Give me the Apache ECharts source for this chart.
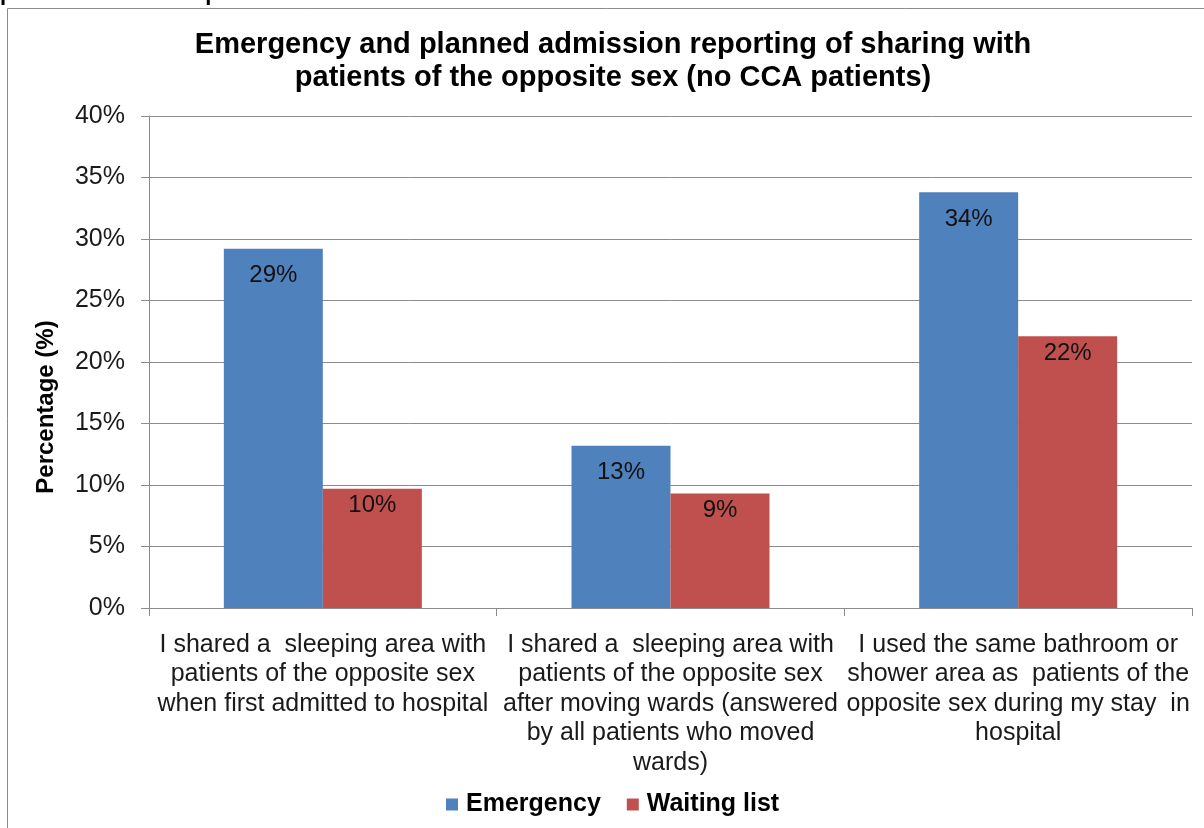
<!DOCTYPE html>
<html>
<head>
<meta charset="utf-8">
<script src="https://cdn.jsdelivr.net/npm/echarts@6/dist/echarts.min.js"></script>
<style>
  html, body { margin: 0; padding: 0; background: #fff; }
  #chart { width: 1204px; height: 828px; }
</style>
</head>
<body>
<div id="chart"></div>
<script>
// categories (line breaks as in the original chart)
var categories = [
    'I shared a  sleeping area with\npatients of the opposite sex\nwhen first admitted to hospital',
    'I shared a  sleeping area with\npatients of the opposite sex\nafter moving wards (answered\nby all patients who moved\nwards)',
    'I used the same bathroom or\nshower area as  patients of the\nopposite sex during my stay  in\nhospital'
];
var emergency = [29.2, 13.2, 33.8];
var waitingList = [9.7, 9.3, 22.1];
var yTicks = [0, 5, 10, 15, 20, 25, 30, 35, 40];

var font = '"Liberation Sans", Arial, sans-serif';

var myChart = echarts.init(document.getElementById('chart'));

myChart.setOption({
    animation: false,
    backgroundColor: '#fff',
    textStyle: { fontFamily: font },
    title: {
        text: 'Emergency and planned admission reporting of sharing with\npatients of the opposite sex (no CCA patients)',
        left: 608,
        textAlign: 'center',
        top: 23,
        textStyle: {
            fontFamily: font,
            fontSize: 29,
            fontWeight: 'bold',
            color: '#000',
            lineHeight: 33
        }
    },
    graphic: [
        {
            // outer frame of the chart object
            type: 'rect',
            shape: { x: 7.5, y: 8.5, width: 1300, height: 900 },
            style: { fill: 'none', stroke: '#8c8c8c', lineWidth: 1 },
            silent: true
        },
        {
            // caption above the frame, cut off at the top
            type: 'text',
            left: 0,
            top: -17,
            style: {
                text: 'planned admission patients',
                font: 'bold 22px ' + font,
                fill: '#000'
            }
        }
    ],
    legend: {
        data: ['Emergency', 'Waiting list'],
        left: 441,
        top: 787,
        icon: 'rect',
        itemWidth: 12,
        itemHeight: 12,
        itemGap: 26,
        textStyle: {
            fontFamily: font,
            fontSize: 25,
            fontWeight: 'bold',
            color: '#000',
            padding: [0, 0, 0, 3]
        }
    },
    grid: {
        left: 149,
        right: 12,
        top: 116,
        bottom: 220
    },
    xAxis: {
        type: 'category',
        data: categories,
        axisLine: { lineStyle: { color: '#8c8c8c', width: 1 } },
        axisTick: { show: true, length: 8, lineStyle: { color: '#8c8c8c' } },
        axisLabel: {
            interval: 0,
            margin: 22,
            fontFamily: font,
            fontSize: 25,
            lineHeight: 29.5,
            color: '#1a1a1a',
            align: 'center'
        }
    },
    yAxis: {
        type: 'value',
        min: 0,
        max: 40,
        interval: 5,
        name: 'Percentage (%)',
        nameLocation: 'middle',
        nameGap: 91,
        nameRotate: 90,
        nameTextStyle: {
            fontFamily: font,
            fontSize: 24,
            fontWeight: 'bold',
            color: '#000',
            padding: [0, 90, 0, 0]
        },
        axisLine: { show: true, lineStyle: { color: '#8c8c8c', width: 1 } },
        axisTick: { show: true, length: 8, lineStyle: { color: '#8c8c8c' } },
        axisLabel: {
            margin: 24,
            fontFamily: font,
            fontSize: 25,
            color: '#1a1a1a',
            formatter: function (v) {
                return yTicks.indexOf(v) >= 0 ? v + '%' : '';
            }
        },
        splitLine: { lineStyle: { color: '#8c8c8c', width: 1 } }
    },
    series: [
        {
            name: 'Emergency',
            type: 'bar',
            data: emergency,
            barWidth: 99,
            barGap: '0%',
            itemStyle: { color: '#4f81bd' },
            label: {
                show: true,
                position: 'insideTop',
                distance: 15,
                fontFamily: font,
                fontSize: 24,
                color: '#111',
                formatter: function (p) { return Math.round(p.value) + '%'; }
            }
        },
        {
            name: 'Waiting list',
            type: 'bar',
            data: waitingList,
            barWidth: 99,
            barGap: '0%',
            itemStyle: { color: '#c0504d' },
            label: {
                show: true,
                position: 'insideTop',
                distance: 5,
                fontFamily: font,
                fontSize: 24,
                color: '#111',
                formatter: function (p) { return Math.round(p.value) + '%'; }
            }
        }
    ]
});
</script>
</body>
</html>
